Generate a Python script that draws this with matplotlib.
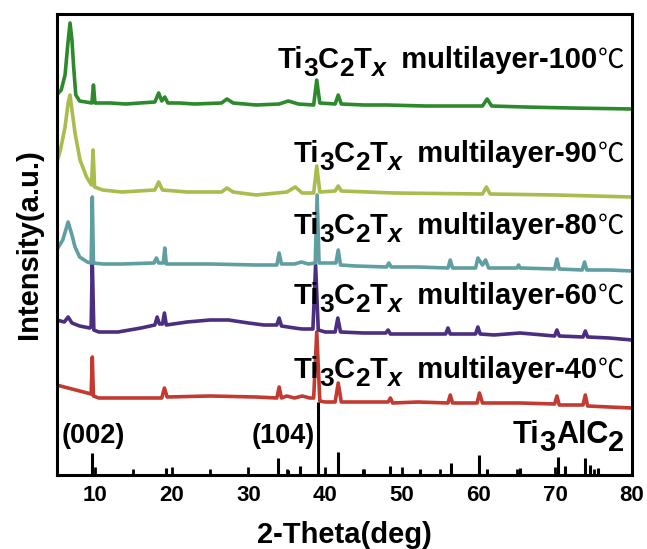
import matplotlib
matplotlib.use("Agg")
import matplotlib.pyplot as plt

plt.rcParams['font.family'] = ['Liberation Sans', 'DejaVu Sans']
plt.rcParams['font.weight'] = 'bold'

# ---------------- data (2-theta in deg, intensity in a.u.) ----------------
x_100 = [5.0, 5.6, 6.1, 6.45, 6.75, 7.0, 7.2, 7.5, 8.0, 9.6, 9.8, 10.0, 12.0, 14.0,
         17.8, 18.3, 18.7, 19.1, 19.5, 21.0, 23.0, 26.5, 27.2, 28.0, 31.0, 34.0, 35.2,
         36.5, 38.5, 38.9, 39.3, 41.3, 41.7, 42.1, 45.0, 48.0, 53.0, 60.5, 61.1, 61.7,
         66.0, 72.0, 80.0]
y_100 = [380, 385, 400, 430, 452, 435, 410, 380, 374, 372, 390, 372, 372, 371,
         373, 382, 374, 378, 372, 372, 371, 372, 376, 372, 370, 371, 374,
         371, 370, 395, 372, 371, 380, 371, 370, 370, 369, 369, 376, 369,
         368, 367, 366]

x_90 = [5.0, 5.5, 6.1, 6.5, 6.75, 7.0, 7.4, 8.05, 8.9, 9.55, 9.75, 9.95, 11.0, 13.5,
        17.8, 18.3, 18.8, 22.0, 26.5, 27.2, 28.0, 31.0, 35.0, 36.1, 37.0, 38.5, 38.9,
        39.3, 41.3, 41.7, 42.1, 49.0, 60.5, 61.0, 61.5, 70.0, 80.0]
y_90 = [312, 325, 348, 372, 380, 365, 342, 315, 298, 290, 325, 288, 285, 283,
        285, 293, 285, 283, 283, 287, 283, 280, 283, 288, 282, 282, 309,
        283, 284, 289, 284, 282, 281, 288, 281, 280, 278]

x_80 = [5.0, 5.8, 6.5, 7.0, 7.4, 8.0, 9.0, 9.5, 9.65, 9.8, 11.0, 13.5, 17.7, 18.0,
        18.3, 18.9, 19.1, 19.3, 21.0, 25.0, 31.0, 33.7, 34.0, 34.3, 36.0, 36.9, 37.8,
        38.7, 38.95, 39.2, 40.5, 41.4, 41.7, 42.0, 44.0, 48.0, 48.3, 48.6, 52.0, 56.0,
        56.3, 56.6, 59.6, 59.9, 60.5, 60.9, 61.3, 65.0, 65.2, 65.4, 69.9, 70.2, 70.5,
        73.5, 73.8, 74.1, 77.0, 80.0]
y_80 = [225, 235, 253, 240, 228, 218, 213, 212, 278, 212, 211, 211, 212, 217,
        212, 212, 227, 211, 211, 211, 210, 210, 222, 211, 211, 213, 211,
        212, 280, 212, 212, 212, 225, 210, 209, 208, 212, 208, 208, 207,
        215, 207, 207, 217, 210, 215, 207, 207, 210, 207, 206, 216, 206,
        205, 213, 205, 205, 204]

x_60 = [5.0, 6.0, 6.5, 7.0, 8.0, 9.3, 9.5, 9.65, 9.85, 10.5, 13.0, 16.0, 17.8, 18.1,
        18.4, 18.8, 19.05, 19.3, 22.0, 25.0, 27.4, 30.0, 32.0, 33.7, 34.0, 34.3, 36.0,
        37.0, 38.4, 38.75, 39.1, 40.0, 41.3, 41.65, 42.0, 45.0, 47.9, 48.2, 48.5, 52.0,
        55.7, 56.0, 56.3, 59.6, 59.9, 60.2, 62.0, 65.4, 69.9, 70.2, 70.5, 73.6, 73.9,
        74.2, 77.0, 80.0]
y_60 = [155, 153, 158, 152, 149, 147, 148, 215, 145, 143, 143, 147, 150, 158,
        151, 151, 162, 150, 153, 155, 155, 152, 150, 150, 157, 149, 147,
        146, 146, 210, 145, 143, 143, 157, 143, 142, 142, 145, 141, 141,
        141, 147, 141, 141, 148, 141, 140, 142, 139, 145, 139, 138, 144,
        138, 137, 135]

x_40 = [5.0, 7.0, 9.0, 9.5, 9.65, 9.8, 10.5, 13.0, 18.7, 19.05, 19.4, 25.0, 31.0,
        33.7, 34.0, 34.3, 35.0, 36.0, 37.0, 38.0, 38.5, 38.9, 39.3, 40.0, 41.3, 41.7,
        42.1, 45.0, 48.2, 48.5, 48.8, 52.1, 56.0, 56.3, 56.6, 59.8, 60.1, 60.5, 65.4,
        69.9, 70.2, 70.5, 73.6, 73.9, 74.2, 77.0, 80.0]
y_40 = [90, 86, 82, 81, 118, 79, 77, 77, 77, 87, 78, 79, 78,
        77, 88, 77, 79, 77, 79, 77, 77, 143, 74, 73, 73, 92,
        73, 73, 73, 77, 72, 73, 72, 80, 72, 72, 82, 72, 72,
        71, 79, 70, 70, 80, 69, 68, 67]

# Ti3AlC2 reference pattern (stick positions and heights)
ref_pos = [9.65, 19.2, 33.9, 35.1, 36.7, 39.0, 41.7, 44.9, 48.5, 52.3, 56.4, 60.1,
           61.1, 65.4, 70.4, 71.2, 73.9, 74.5, 75.6]
ref_h = [22, 7, 17, 5, 9, 73, 23, 6, 9, 6, 12, 20, 6, 7, 18, 9, 17, 10, 7]

series_x = [x_40, x_60, x_80, x_90, x_100]
series_y = [y_40, y_60, y_80, y_90, y_100]
temps = ['40', '60', '80', '90', '100']
label_y = [97, 171, 241, 313, 407]
colors = ['#c23a30', '#4b2e80', '#5f9fa1', '#a9bc4d', '#2c8a2c']

# ---------------- figure ----------------
fig = plt.figure(figsize=(6.47, 5.49), dpi=100)
ax = fig.add_axes([0.0875, 0.1348, 0.8895, 0.8397])

for xs, ys, c in zip(series_x, series_y, colors):
    ax.plot(xs, ys, color=c, lw=2.6, solid_joinstyle='round')

ax.vlines(ref_pos, 0, ref_h, color='black', lw=2.2)

ax.set_xlim(5, 80)
ax.set_ylim(0, 461)
ax.set_yticks([])
ax.set_xticks([10, 20, 30, 40, 50, 60, 70, 80])
ax.set_xticks([15, 25, 35, 45, 55, 65, 75], minor=True)
ax.tick_params(axis='x', which='major', direction='in', length=6, width=2,
               labelsize=16, pad=7)
ax.tick_params(axis='x', which='minor', direction='in', length=4, width=2)
for lab in ax.get_xticklabels():
    lab.set_fontweight('bold')
for sp in ax.spines.values():
    sp.set_linewidth(2.2)

ax.set_xlabel('2-Theta(deg)', fontsize=21, fontweight='bold', labelpad=11)
ax.set_ylabel('Intensity(a.u.)', fontsize=21, fontweight='bold', labelpad=10)

fig.canvas.draw()
renderer = fig.canvas.get_renderer()

MAIN = 21
SUB = 19
SUBX = 18
DY = -5.5
CJK = ['Noto Sans CJK SC', 'DejaVu Sans']
SANS = ['Liberation Sans', 'DejaVu Sans']


def rich_label(x_right, y_base, pieces):
    """pieces: (text, size, dy_pts, weight, style, family); right-aligned at x_right."""
    texts = []
    for s, size, dy, w, st, fam in pieces:
        t = ax.annotate(s, xy=(x_right, y_base), xycoords='data',
                        xytext=(0, dy), textcoords='offset points',
                        ha='left', va='baseline', fontsize=size,
                        fontweight=w, fontstyle=st, family=fam)
        texts.append(t)
    widths = [t.get_window_extent(renderer).width * 72.0 / fig.dpi for t in texts]
    off = -sum(widths)
    for t, w, p in zip(texts, widths, pieces):
        t.xyann = (off, p[2])
        off += w


for t, yb in zip(temps, label_y):
    rich_label(78.9, yb, [
        ('Ti', MAIN, 0, 'bold', 'normal', SANS),
        ('3', SUB, DY, 'bold', 'normal', SANS),
        ('C', MAIN, 0, 'bold', 'normal', SANS),
        ('2', SUB, DY, 'bold', 'normal', SANS),
        ('T', MAIN, 0, 'bold', 'normal', SANS),
        ('x', SUBX, DY, 'bold', 'italic', SANS),
        ('  multilayer-' + t, MAIN, 0, 'bold', 'normal', SANS),
        ('\u2103', 19, 0, 'normal', 'normal', CJK),
    ])

rich_label(79.0, 32, [
    ('Ti', 22, 0, 'bold', 'normal', SANS),
    ('3', 21, DY, 'bold', 'normal', SANS),
    ('AlC', 22, 0, 'bold', 'normal', SANS),
    ('2', 21, DY, 'bold', 'normal', SANS),
])

ax.text(5.7, 32, '(002)', ha='left', va='baseline', fontsize=19.5, fontweight='bold')
ax.text(38.7, 32, '(104)', ha='right', va='baseline', fontsize=19.5, fontweight='bold')

fig.savefig('out.png', dpi=100)
